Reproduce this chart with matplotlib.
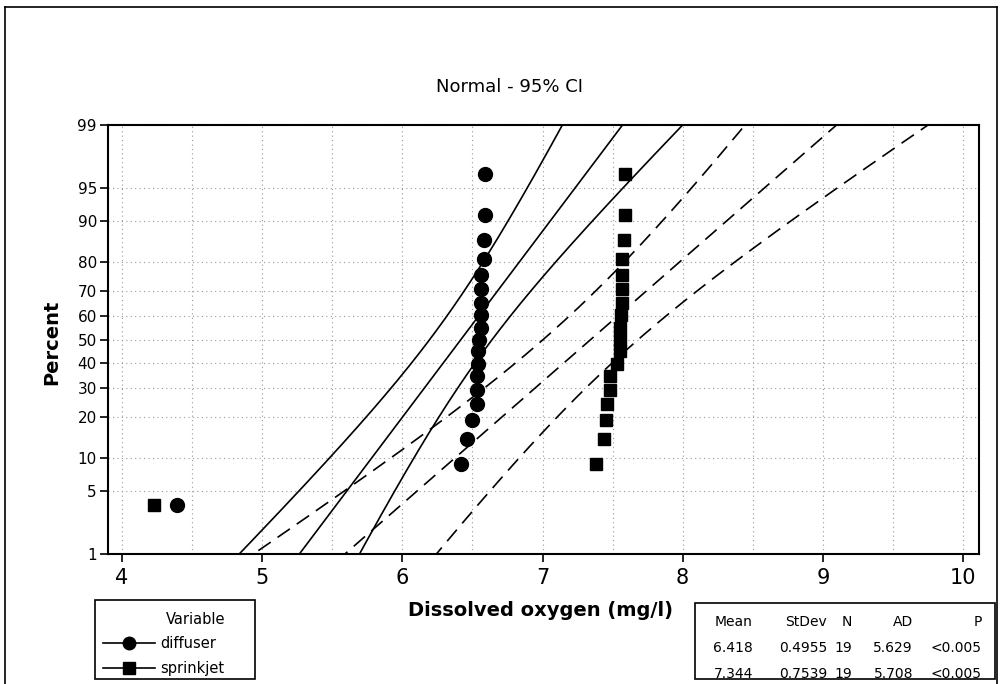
import matplotlib
matplotlib.use("Agg")
import matplotlib.pyplot as plt
from matplotlib.lines import Line2D
from matplotlib.patches import Rectangle
import numpy as np
from statistics import NormalDist

# summary table (as printed on the chart)
variables = ["diffuser", "sprinkjet"]
means = [6.418, 7.344]
stdevs = [0.4955, 0.7539]
counts = [19, 19]
ad_stats = [5.629, 5.708]
p_values = ["<0.005", "<0.005"]

diffuser = [4.39, 6.42, 6.46, 6.50, 6.53, 6.53, 6.53, 6.54, 6.54, 6.55,
            6.56, 6.56, 6.56, 6.56, 6.56, 6.58, 6.58, 6.59, 6.59]
sprinkjet = [4.23, 7.38, 7.44, 7.45, 7.46, 7.48, 7.48, 7.53, 7.55, 7.55,
             7.55, 7.56, 7.57, 7.57, 7.57, 7.57, 7.58, 7.59, 7.59]

pct_ticks = [1, 5, 10, 20, 30, 40, 50, 60, 70, 80, 90, 95, 99]
x_ticks = [4, 5, 6, 7, 8, 9, 10]

nd = NormalDist()
_ppf = np.vectorize(lambda v: nd.inv_cdf(min(max(v / 100.0, 1e-12), 1 - 1e-12)),
                    otypes=[float])
_cdf = np.vectorize(lambda v: nd.cdf(v) * 100.0, otypes=[float])


def fwd(p):
    return _ppf(np.asarray(p, dtype=float))


def inv(z):
    return _cdf(np.asarray(z, dtype=float))


def fy(px):
    # pixel row -> figure fraction
    return 1 - px / 684


plt.rcParams['font.family'] = ['DejaVu Sans']

fig = plt.figure(figsize=(10, 6.84), dpi=100)
ax = fig.add_axes([0.108, fy(554), 0.871, (554 - 125) / 684])
ax.set_yscale('function', functions=(fwd, inv))

styles = [dict(ls='-', marker='o', ms=10), dict(ls=(0, (9, 5)), marker='s', ms=9)]
samples = [diffuser, sprinkjet]
z_grid = np.linspace(nd.inv_cdf(0.005), nd.inv_cdf(0.995), 200)
pct_grid = inv(z_grid)

for data, mu, sd, n, st in zip(samples, means, stdevs, counts, styles):
    ranks = np.arange(1, len(data) + 1)
    pos = (ranks - 0.3) / (len(data) + 0.4) * 100  # median ranks
    ax.plot(data, pos, ls='none', marker=st['marker'], ms=st['ms'],
            color='black', zorder=4)
    fit = mu + z_grid * sd
    se = sd * np.sqrt(1.0 / n + z_grid ** 2 / (2.0 * n))
    for curve in (fit, fit - 1.96 * se, fit + 1.96 * se):
        ax.plot(curve, pct_grid, color='black', lw=1.2, ls=st['ls'], zorder=3)

ax.set_xlim(3.9, 10.114)
ax.set_ylim(1, 99)
ax.set_xticks(x_ticks)
ax.set_xticks(np.arange(4.5, 10, 1.0), minor=True)
ax.set_yticks(pct_ticks)
ax.set_yticklabels([str(t) for t in pct_ticks])
ax.yaxis.set_minor_locator(matplotlib.ticker.NullLocator())
ax.tick_params(axis='x', which='major', direction='out', length=6, width=1.2,
               labelsize=15, pad=4)
ax.tick_params(axis='x', which='minor', length=0)
ax.tick_params(axis='y', direction='out', length=6, width=1.2, labelsize=11, pad=2)
ax.grid(True, which='both', axis='x', color='#999999', lw=0.8, ls=(0, (1, 3)))
ax.grid(True, which='major', axis='y', color='#999999', lw=0.8, ls=(0, (1, 3)))
for s in ax.spines.values():
    s.set_linewidth(1.5)

fig.text(0.509, fy(87), "Normal - 95% CI", ha='center', va='center', fontsize=13)
fig.text(0.541, fy(610), "Dissolved oxygen (mg/l)", ha='center', va='center',
         fontsize=14, fontweight='bold')
fig.text(0.052, fy(342), "Percent", ha='center', va='center', rotation=90,
         fontsize=14, fontweight='bold')

# outer frame
for xs, ys in [((0.005, 0.997), (0.99, 0.99)), ((0.005, 0.005), (0.0, 0.99)),
               ((0.997, 0.997), (0.0, 0.99))]:
    fig.add_artist(Line2D(xs, ys, color='black', lw=1.2, transform=fig.transFigure))

# legend box
fig.add_artist(Rectangle((0.095, fy(679)), 0.160, 79 / 684, fill=False,
                         ec='black', lw=1.2, transform=fig.transFigure))
fig.text(0.196, fy(619), "Variable", ha='center', va='center', fontsize=10.5)
for name, st, row in zip(variables, styles, [643, 668]):
    fig.add_artist(Line2D([0.103, 0.155], [fy(row), fy(row)], color='black', lw=1.2,
                          transform=fig.transFigure))
    fig.add_artist(Line2D([0.129], [fy(row)], color='black', marker=st['marker'],
                          ms=st['ms'] * 0.9, transform=fig.transFigure))
    fig.text(0.160, fy(row), name, ha='left', va='center', fontsize=10.5)

# summary table
fig.add_artist(Rectangle((0.695, fy(679)), 0.300, 76 / 684, fill=False,
                         ec='black', lw=1.2, transform=fig.transFigure))
col_right = [0.753, 0.827, 0.852, 0.913, 0.982]
header = ["Mean", "StDev", "N", "AD", "P"]
rows = [header] + [[f"{m:.3f}", f"{s:.4f}", str(c), f"{a:.3f}", p]
                   for m, s, c, a, p in zip(means, stdevs, counts, ad_stats, p_values)]
row_y = [622, 648, 674]
for r, yy in zip(rows, row_y):
    for txt, xr in zip(r, col_right):
        fig.text(xr, fy(yy), txt, ha='right', va='center', fontsize=10)

fig.savefig("out.png", dpi=100)
